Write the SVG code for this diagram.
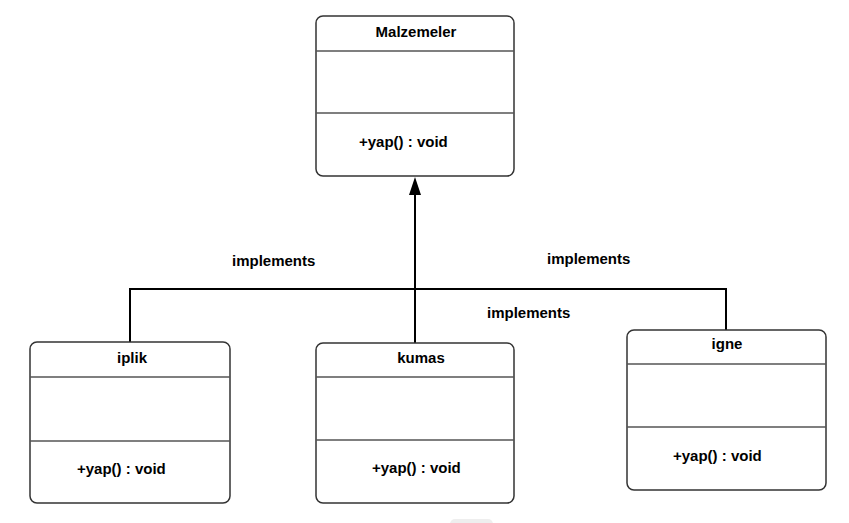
<svg xmlns="http://www.w3.org/2000/svg" width="849" height="523" viewBox="0 0 849 523">
<defs>
<style>
.box{fill:#fff;stroke:#333;stroke-width:1.5}
.div{stroke:#555;stroke-width:1.3}
.t{font-family:"Liberation Sans",Arial,sans-serif;font-weight:bold;font-size:15px;fill:#000}
.c{fill:none;stroke:#000;stroke-width:2}
</style>
</defs>
<rect width="849" height="523" fill="#fff"/>
<g id="connectors">
<polyline class="c" points="130,342 130,289 726,289 726,330"/>
<line class="c" x1="415" y1="343" x2="415" y2="195"/>
<path d="M415,177 L421,195 L409,195 Z" fill="#000"/>
<text class="t" x="232" y="266">implements</text>
<text class="t" x="547" y="264">implements</text>
<text class="t" x="487" y="318">implements</text>
</g>
<g id="Malzemeler">
<rect class="box" x="316" y="16" width="198" height="160" rx="7"/>
<line class="div" x1="316" y1="51" x2="514" y2="51"/>
<line class="div" x1="316" y1="113" x2="514" y2="113"/>
<text class="t" x="416" y="37" text-anchor="middle">Malzemeler</text>
<text class="t" x="359" y="147">+yap() : void</text>
</g>
<g id="iplik">
<rect class="box" x="30" y="342" width="200" height="161" rx="7"/>
<line class="div" x1="30" y1="377" x2="230" y2="377"/>
<line class="div" x1="30" y1="441" x2="230" y2="441"/>
<text class="t" x="132" y="363" text-anchor="middle">iplik</text>
<text class="t" x="77" y="474">+yap() : void</text>
</g>
<g id="kumas">
<rect class="box" x="316" y="343" width="198" height="160" rx="7"/>
<line class="div" x1="316" y1="377" x2="514" y2="377"/>
<line class="div" x1="316" y1="440" x2="514" y2="440"/>
<text class="t" x="421" y="363" text-anchor="middle">kumas</text>
<text class="t" x="372" y="473">+yap() : void</text>
</g>
<g id="igne">
<rect class="box" x="627" y="330" width="199" height="160" rx="7"/>
<line class="div" x1="627" y1="364" x2="826" y2="364"/>
<line class="div" x1="627" y1="427" x2="826" y2="427"/>
<text class="t" x="727" y="349" text-anchor="middle">igne</text>
<text class="t" x="673" y="461">+yap() : void</text>
</g>
<rect x="450" y="519" width="43" height="10" rx="5" fill="#eeeeee"/>
</svg>
